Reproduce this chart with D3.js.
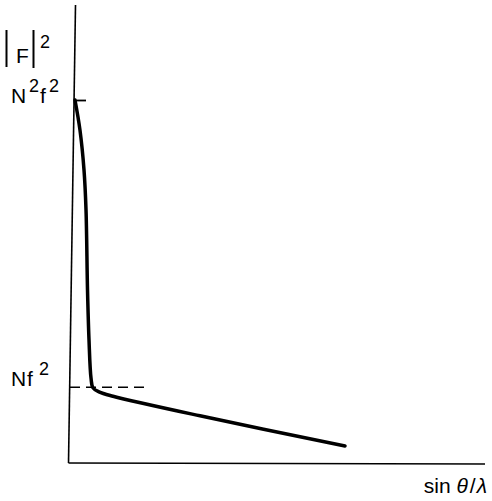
<!DOCTYPE html>
<html><head><meta charset="utf-8">
<script src="https://cdn.jsdelivr.net/npm/d3@7"></script>
<style>html,body{margin:0;padding:0;background:#fff;}svg{display:block;}</style>
</head><body>
<svg id="c" width="492" height="501"></svg>
<script>
// Data (arbitrary units): x = sinθ/λ, y = |F|^2 normalised to N²f² = 1
const curveX = [0.0144, 0.0264, 0.0361, 0.0409, 0.0445, 0.0481, 0.0529, 0.0577, 0.0721, 0.1058, 0.3149, 0.6635];
const curveY = [1.000, 0.917, 0.807, 0.697, 0.477, 0.339, 0.234, 0.207, 0.196, 0.184, 0.130, 0.047];
const levelNames = ["N²f²", "Nf²"];
const levelValues = [1.0, 0.209];
const dashEndX = 0.19;

const svg = d3.select("#c");
const x = d3.scaleLinear().domain([0, 1]).range([69, 485]);
const y = d3.scaleLinear().domain([0, 1]).range([463, 100]);
const font = "'Liberation Sans', Arial, sans-serif";

// axes (slightly skewed like the scanned original)
svg.append("line").attr("x1", 75.5).attr("x2", x(0) - 0.5).attr("y1", 5).attr("y2", y(0))
  .attr("stroke", "#000").attr("stroke-width", 1.6);
svg.append("line").attr("x1", x(0) - 0.5).attr("x2", x(1)).attr("y1", y(0)).attr("y2", y(0) + 1)
  .attr("stroke", "#000").attr("stroke-width", 1.6);

// N²f² tick via d3 axis
const ax = d3.axisRight(y).tickValues([levelValues[0]]).tickSize(12).tickFormat("");
const g = svg.append("g").attr("transform", `translate(74,0)`).call(ax);
g.select(".domain").remove();
g.selectAll(".tick line").attr("stroke", "#000").attr("stroke-width", 1.8);

// Nf² dashed line
svg.append("line").attr("x1", 70).attr("x2", x(dashEndX))
  .attr("y1", y(levelValues[1])).attr("y2", y(levelValues[1]))
  .attr("stroke", "#000").attr("stroke-width", 1.5).attr("stroke-dasharray", "10,6");

// curve
const pts = curveX.map((d, i) => [d, curveY[i]]);
svg.append("path").datum(pts)
  .attr("d", d3.line().x(d => x(d[0])).y(d => y(d[1])).curve(d3.curveCatmullRom.alpha(0.5)))
  .attr("fill", "none").attr("stroke", "#000").attr("stroke-width", 3.5)
  .attr("stroke-linecap", "round").attr("stroke-linejoin", "round");

// labels
function txt(xp, yp, s, size, italic) {
  const t = svg.append("text").attr("x", xp).attr("y", yp)
    .attr("font-family", font).attr("font-size", size).attr("fill", "#000").text(s);
  if (italic) t.attr("font-style", "italic");
  return t;
}
// |F|²
svg.append("line").attr("x1", 6.5).attr("x2", 6.5).attr("y1", 30).attr("y2", 67).attr("stroke", "#000").attr("stroke-width", 2);
svg.append("line").attr("x1", 33.5).attr("x2", 33.5).attr("y1", 30).attr("y2", 68).attr("stroke", "#000").attr("stroke-width", 2);
txt(16, 63, "F", 21);
txt(40, 48, "2", 18);
// N²f²
txt(11, 103, "N", 21);
txt(29, 92, "2", 18);
txt(40, 103, "f", 21);
txt(49, 92, "2", 18);
// Nf²
txt(11, 386, "N", 21);
txt(27, 386, "f", 21);
txt(39, 375, "2", 18);
// sin θ/λ
const t = svg.append("text").attr("x", 487).attr("y", 493).attr("text-anchor", "end")
  .attr("font-family", font).attr("font-size", 21).attr("fill", "#000");
t.append("tspan").text("sin ");
t.append("tspan").attr("font-style", "italic").text("θ");
t.append("tspan").attr("dx", 2).text("/");
t.append("tspan").attr("dx", 1).attr("font-style", "italic").text("λ");
</script>
</body></html>
